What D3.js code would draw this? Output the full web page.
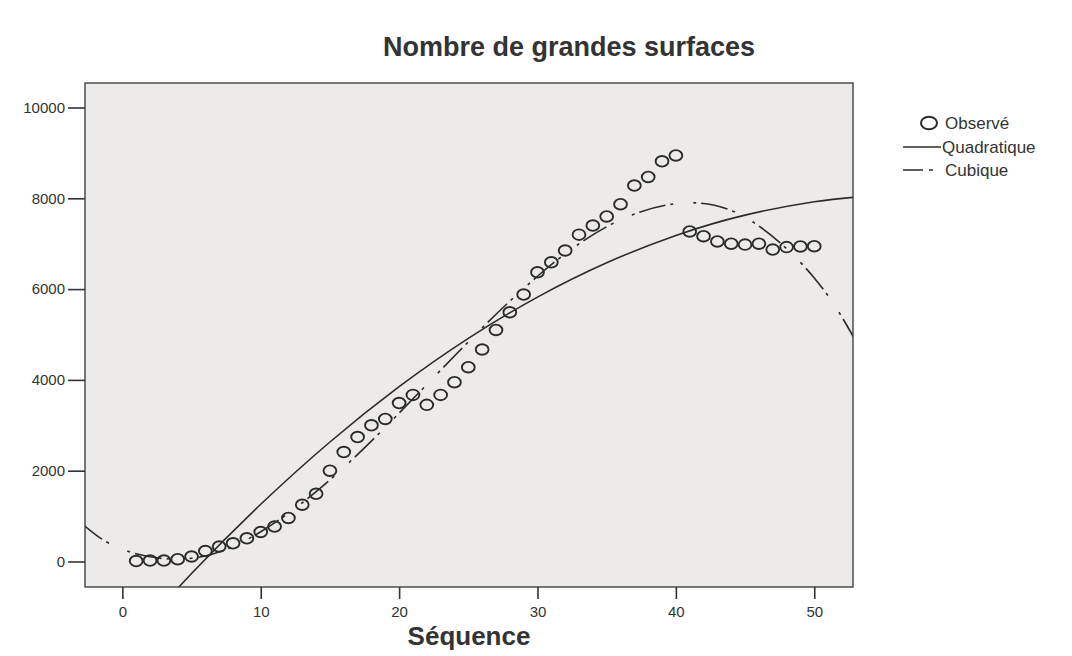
<!DOCTYPE html>
<html>
<head>
<meta charset="utf-8">
<script src="https://cdn.jsdelivr.net/npm/d3@7"></script>
<style>
  body { margin: 0; background: #fff; }
  text { font-family: "Liberation Sans", Arial, Helvetica, sans-serif; fill: #333; }
</style>
</head>
<body>
<svg width="1072" height="656"></svg>
<script>
// observed series (Séquence -> value)
const sequence = [1, 2, 3, 4, 5, 6, 7, 8, 9, 10, 11, 12, 13, 14, 15, 16, 17, 18, 19, 20,
  21, 22, 23, 24, 25, 26, 27, 28, 29, 30, 31, 32, 33, 34, 35, 36, 37, 38, 39, 40,
  41, 42, 43, 44, 45, 46, 47, 48, 49, 50];
const observed = [10, 20, 20, 50, 110, 230, 330, 400, 510, 650, 770, 960, 1250, 1490, 2000, 2410, 2740, 3000, 3140, 3490,
  3670, 3450, 3670, 3950, 4280, 4670, 5100, 5490, 5880, 6370, 6590, 6850, 7200, 7400, 7600, 7870, 8280, 8470, 8815, 8945,
  7270, 7165, 7050, 7000, 6980, 7000, 6870, 6925, 6940, 6945];

// fitted curves
const fitSequence = [-3, 0, 5, 10, 15, 20, 25, 30, 35, 40, 45, 50, 53];
const quadratic = [-3028, -1946, -266, 1260, 2632, 3850, 4914, 5824, 6580, 7182, 7630, 7924, 8026];
const cubic = [855, 267, 70, 656, 1798, 3268, 4839, 6283, 7374, 7882, 7583, 6247, 4853];

const xTicks = [0, 10, 20, 30, 40, 50];
const yTicks = [0, 2000, 4000, 6000, 8000, 10000];
const legendLabels = ["Observé", "Quadratique", "Cubique"];

const svg = d3.select("svg");
const plot = { left: 85, top: 83, right: 853, bottom: 587 };
const ink = "#2b2b2b";
const dashDot = "27,5,3,20,3,5";

const x = d3.scaleLinear().domain([-2.7, 52.8]).range([plot.left, plot.right]);
const y = d3.scaleLinear().domain([-562, 10540]).range([plot.bottom, plot.top]);

svg.append("defs").append("clipPath").attr("id", "clip")
  .append("rect")
  .attr("x", plot.left).attr("y", plot.top)
  .attr("width", plot.right - plot.left).attr("height", plot.bottom - plot.top);

svg.append("rect")
  .attr("x", plot.left).attr("y", plot.top)
  .attr("width", plot.right - plot.left).attr("height", plot.bottom - plot.top)
  .attr("fill", "#ecebe9");

const fitLine = vals => d3.line()
  .x((d, i) => x(fitSequence[i]))
  .y(d => y(d))
  .curve(d3.curveNatural)(vals);

const curvesG = svg.append("g").attr("clip-path", "url(#clip)");

curvesG.append("path")
  .attr("d", fitLine(quadratic))
  .attr("fill", "none")
  .attr("stroke", ink)
  .attr("stroke-width", 1.6);

curvesG.append("path")
  .attr("d", fitLine(cubic))
  .attr("fill", "none")
  .attr("stroke", ink)
  .attr("stroke-width", 1.6)
  .attr("stroke-dasharray", dashDot);

curvesG.selectAll(".obs")
  .data(observed)
  .enter()
  .append("ellipse")
  .attr("class", "obs")
  .attr("cx", (d, i) => x(sequence[i]))
  .attr("cy", d => y(d))
  .attr("rx", 6.4)
  .attr("ry", 5.3)
  .attr("fill", "none")
  .attr("stroke", ink)
  .attr("stroke-width", 1.9);

// frame
svg.append("rect")
  .attr("x", plot.left).attr("y", plot.top)
  .attr("width", plot.right - plot.left).attr("height", plot.bottom - plot.top)
  .attr("fill", "none")
  .attr("stroke", "#333")
  .attr("stroke-width", 1.3);

// axes
const yAxisG = svg.append("g")
  .attr("transform", `translate(${plot.left},0)`)
  .call(d3.axisLeft(y).tickValues(yTicks).tickSize(17).tickPadding(3).tickFormat(d3.format("d")));
yAxisG.select(".domain").remove();

const xAxisG = svg.append("g")
  .attr("transform", `translate(0,${plot.bottom})`)
  .call(d3.axisBottom(x).tickValues(xTicks).tickSize(12).tickPadding(7).tickFormat(d3.format("d")));
xAxisG.select(".domain").remove();

[yAxisG, xAxisG].forEach(g => {
  g.selectAll(".tick line").attr("stroke", "#333").attr("stroke-width", 1.6);
  g.selectAll(".tick text")
    .attr("fill", "#333")
    .style("font-size", "15px")
    .style("font-family", "'Liberation Sans', Arial, sans-serif");
});

// titles
svg.append("text")
  .attr("x", 569)
  .attr("y", 56)
  .attr("text-anchor", "middle")
  .style("font-size", "27px")
  .style("font-weight", "bold")
  .text("Nombre de grandes surfaces");

svg.append("text")
  .attr("x", (plot.left + plot.right) / 2)
  .attr("y", 645)
  .attr("text-anchor", "middle")
  .style("font-size", "26px")
  .style("font-weight", "bold")
  .text("Séquence");

// legend
const legendG = svg.append("g");
const rowY = [123, 147, 170];

legendG.append("ellipse")
  .attr("cx", 929).attr("cy", rowY[0])
  .attr("rx", 8).attr("ry", 6.3)
  .attr("fill", "none").attr("stroke", ink).attr("stroke-width", 2);

legendG.append("line")
  .attr("x1", 903).attr("x2", 941)
  .attr("y1", rowY[1]).attr("y2", rowY[1])
  .attr("stroke", ink).attr("stroke-width", 1.6);

legendG.append("line")
  .attr("x1", 903).attr("x2", 936)
  .attr("y1", rowY[2]).attr("y2", rowY[2])
  .attr("stroke", ink).attr("stroke-width", 1.6)
  .attr("stroke-dasharray", "20,6,4,20");

legendG.selectAll(".leg")
  .data(legendLabels)
  .enter()
  .append("text")
  .attr("class", "leg")
  .attr("x", (d, i) => (i === 1 ? 942 : 945))
  .attr("y", (d, i) => rowY[i])
  .attr("dy", "0.35em")
  .style("font-size", "17px")
  .text(d => d);
</script>
</body>
</html>
